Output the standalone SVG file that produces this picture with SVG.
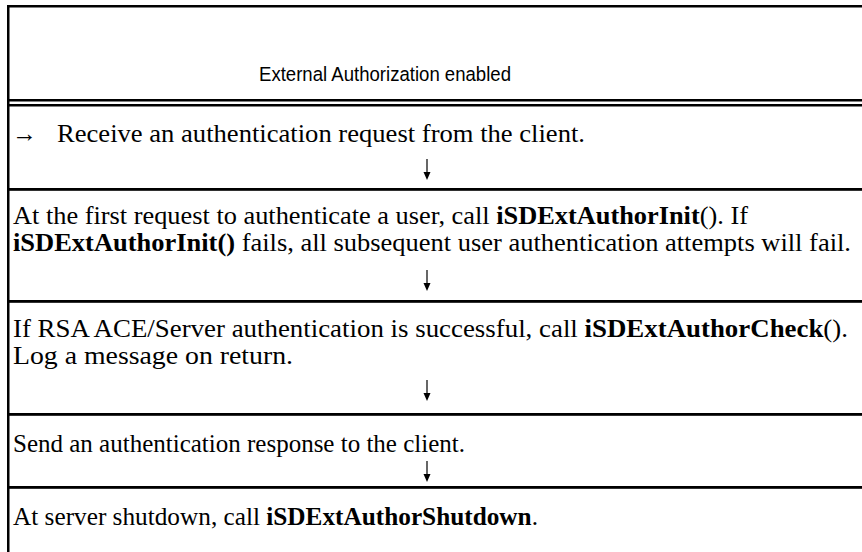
<svg xmlns="http://www.w3.org/2000/svg" width="862" height="552" viewBox="0 0 862 552">
  <style>
    .rule { fill: #000; }
    .head { font-family: "Liberation Sans", Arial, sans-serif; font-size: 20.5px; fill: #000; }
    .body { font-family: "Liberation Serif", "Times New Roman", serif; font-size: 25px; fill: #000; }
    .b { font-weight: bold; }
    .flow { stroke: #000; stroke-width: 1.2; fill: none; }
    .tip { fill: #000; }
  </style>

  <rect width="862" height="552" fill="#fff"/>

  <!-- table rules -->
  <g id="table-rules">
    <rect class="rule" x="7" y="5" width="855" height="2.5"/>
    <rect class="rule" x="7" y="5" width="2.5" height="547"/>
    <rect class="rule" x="7" y="99" width="855" height="2.5"/>
    <rect class="rule" x="7" y="104" width="855" height="2.5"/>
    <rect class="rule" x="7" y="188" width="855" height="2.8"/>
    <rect class="rule" x="7" y="300" width="855" height="2.8"/>
    <rect class="rule" x="7" y="413" width="855" height="2.8"/>
    <rect class="rule" x="7" y="486" width="855" height="2.8"/>
  </g>

  <g id="header">
    <text class="head" x="259" y="81" textLength="252" lengthAdjust="spacingAndGlyphs">External Authorization enabled</text>
  </g>

  <g id="step-receive">
    <text class="body" x="12" y="142">→</text>
    <text class="body" x="57" y="142" textLength="528" lengthAdjust="spacingAndGlyphs">Receive an authentication request from the client.</text>
  </g>

  <g id="step-init">
    <text class="body" x="13" y="224" textLength="735" lengthAdjust="spacingAndGlyphs">At the first request to authenticate a user, call <tspan class="b">iSDExtAuthorInit</tspan>(). If</text>
    <text class="body" x="13" y="251" textLength="838" lengthAdjust="spacingAndGlyphs"><tspan class="b">iSDExtAuthorInit()</tspan> fails, all subsequent user authentication attempts will fail.</text>
  </g>

  <g id="step-check">
    <text class="body" x="13" y="337" textLength="835" lengthAdjust="spacingAndGlyphs">If RSA ACE/Server authentication is successful, call <tspan class="b">iSDExtAuthorCheck</tspan>().</text>
    <text class="body" x="13" y="364" textLength="280" lengthAdjust="spacingAndGlyphs">Log a message on return.</text>
  </g>

  <g id="step-respond">
    <text class="body" x="13" y="452" textLength="452" lengthAdjust="spacingAndGlyphs">Send an authentication response to the client.</text>
  </g>

  <g id="step-shutdown">
    <text class="body" x="13" y="525" textLength="525" lengthAdjust="spacingAndGlyphs">At server shutdown, call <tspan class="b">iSDExtAuthorShutdown</tspan>.</text>
  </g>

  <!-- flow arrows between steps -->
  <g id="connectors">
    <line class="flow" x1="427" y1="159" x2="427" y2="176"/>
    <path class="tip" d="M423.5,172 L427,180 L430.5,172 Z"/>
    <line class="flow" x1="427" y1="270" x2="427" y2="287"/>
    <path class="tip" d="M423.5,283 L427,291 L430.5,283 Z"/>
    <line class="flow" x1="427" y1="380" x2="427" y2="397"/>
    <path class="tip" d="M423.5,393 L427,401 L430.5,393 Z"/>
    <line class="flow" x1="427" y1="461" x2="427" y2="478"/>
    <path class="tip" d="M423.5,474 L427,482 L430.5,474 Z"/>
  </g>
</svg>
